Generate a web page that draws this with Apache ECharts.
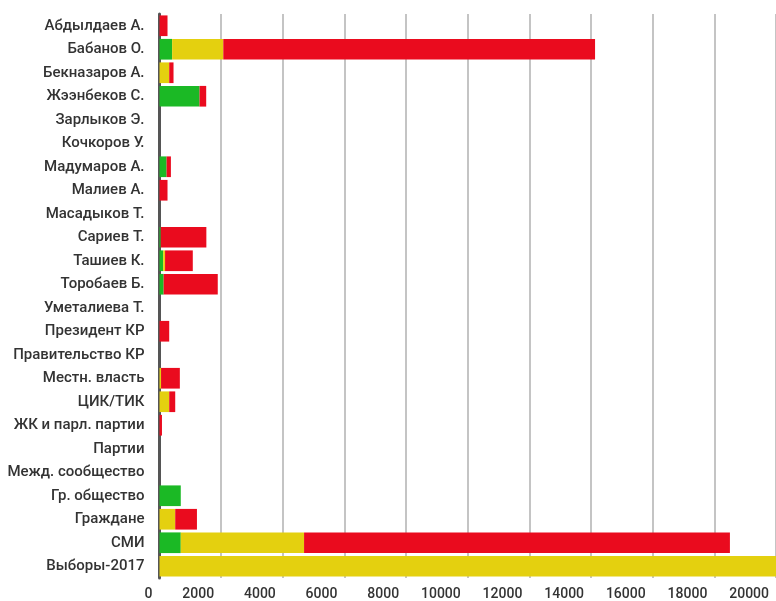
<!DOCTYPE html>
<html>
<head>
<meta charset="utf-8">
<script src="https://cdn.jsdelivr.net/npm/echarts@6/dist/echarts.min.js"></script>
<style>
  html, body { margin: 0; padding: 0; background: #fff; }
  #chart { width: 776px; height: 601px; }
</style>
</head>
<body>
<div id="chart"></div>
<script>
// категории сверху вниз
let categories = ['Абдылдаев А.', 'Бабанов О.', 'Бекназаров А.', 'Жээнбеков С.', 'Зарлыков Э.',
    'Кочкоров У.', 'Мадумаров А.', 'Малиев А.', 'Масадыков Т.', 'Сариев Т.', 'Ташиев К.',
    'Торобаев Б.', 'Уметалиева Т.', 'Президент КР', 'Правительство КР', 'Местн. власть',
    'ЦИК/ТИК', 'ЖК и парл. партии', 'Партии', 'Межд. сообщество', 'Гр. общество',
    'Граждане', 'СМИ', 'Выборы-2017']

let greenValues  = [0, 410, 0, 1300, 0, 0, 230, 0, 0, 40, 120, 135, 0, 0, 0, 0, 0, 0, 0, 0, 690, 0, 690, 0]
let yellowValues = [0, 1660, 315, 0, 0, 0, 0, 0, 0, 0, 60, 0, 0, 0, 0, 50, 315, 0, 0, 0, 0, 510, 4000, 21500]
let redValues    = [260, 12060, 140, 215, 0, 0, 140, 260, 0, 1480, 900, 1755, 0, 315, 0, 610, 195, 80, 0, 0, 0, 705, 13815, 0]

let xTicks = [0, 2000, 4000, 6000, 8000, 10000, 12000, 14000, 16000, 18000, 20000]

let chart = echarts.init(document.getElementById('chart'))

/* одна серия стека */
let makeSeries = (name, data, color) => ({
    name: name,
    type: 'bar',
    stack: 'total',
    barCategoryGap: '12%',
    itemStyle: { color: color },
    data: data
})

chart.setOption({
    animation: false,
    textStyle: { fontFamily: 'Roboto' },
    grid: {
        left: 159.5,
        top: 14,
        width: 622,
        height: 564
    },
    xAxis: {
        type: 'value',
        min: xTicks[0],
        max: xTicks[xTicks.length - 1],
        interval: 2000,
        axisLine: { show: false },
        axisTick: { show: false },
        splitLine: { lineStyle: { color: '#c4c4c4', width: 2 } },
        axisLabel: {
            color: '#333',
            fontSize: 14,
            fontWeight: 500,
            align: 'right',
            padding: [0, 7, 0, 0],
            margin: 9,
            showMaxLabel: true,
            formatter: (v) => String(v)
        }
    },
    yAxis: {
        type: 'category',
        inverse: true,
        data: categories,
        axisLine: { lineStyle: { color: '#555', width: 3 } },
        axisTick: { show: false },
        axisLabel: {
            color: '#333',
            fontSize: 15,
            fontWeight: 500,
            margin: 15
        }
    },
    series: [
        makeSeries('green', greenValues, '#1bb925'),
        makeSeries('yellow', yellowValues, '#e4d00f'),
        makeSeries('red', redValues, '#ea0b1e')
    ]
})
</script>
</body>
</html>
